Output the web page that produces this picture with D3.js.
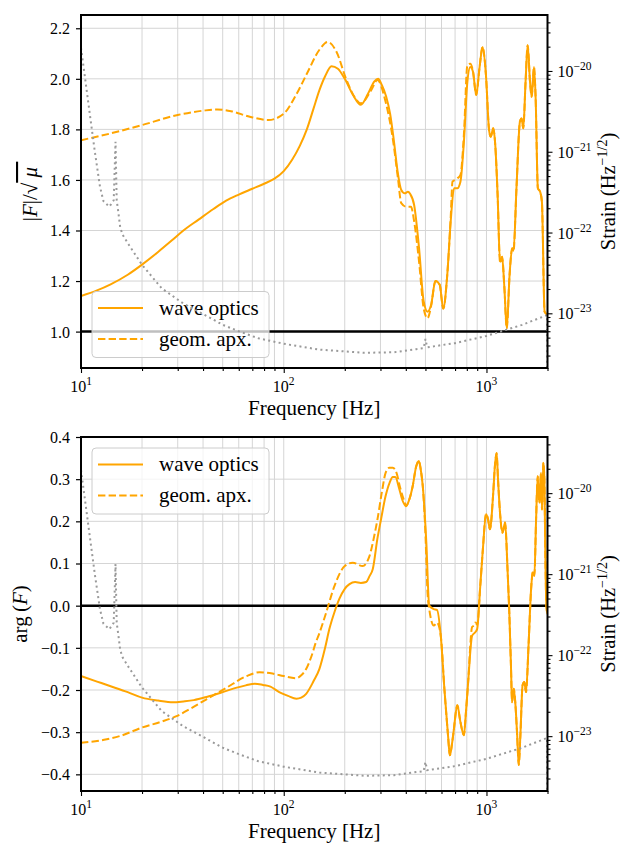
<!DOCTYPE html>
<html>
<head>
<meta charset="utf-8">
<script src="https://cdn.jsdelivr.net/npm/d3@7"></script>
<style>
body{margin:0;background:#fff}
svg text{font-family:"Liberation Serif","Times New Roman",serif !important;fill:#000}
</style>
</head>
<body>
<div id="chart"></div>
<script>
// |F|/sqrt(mu), wave optics
const magFreq = [10,12,14,17,20,24,28,32,38,45,52,60,70,80,90,100,110,120,130,140,150,160,172,185,200,220,240,260,280,292,305,320,335,350,365,380,395,410,420,440,465,490,512,533,560,588,612,640,666,692,718,744,774,805,832,858,890,923,957,994,1030,1050,1080,1105,1135,1166,1180,1194,1226,1259,1300,1339,1360,1406,1462,1490,1519,1559,1596,1640,1671,1716,1748,1793,1840,1877,1935,2000];
const magWave = [1.141,1.163,1.187,1.225,1.265,1.315,1.36,1.40,1.443,1.485,1.518,1.542,1.565,1.585,1.605,1.635,1.68,1.735,1.80,1.88,1.955,2.01,2.05,2.04,2.0,1.935,1.897,1.94,1.99,2.0,1.975,1.93,1.86,1.75,1.63,1.56,1.547,1.553,1.545,1.50,1.33,1.12,1.079,1.105,1.20,1.185,1.092,1.22,1.435,1.567,1.567,1.593,1.751,1.988,2.047,2.028,1.936,2.04,2.126,2.015,1.797,1.771,1.804,1.738,1.54,1.277,1.28,1.296,1.172,1.013,1.224,1.33,1.32,1.567,1.83,1.843,1.804,1.988,2.133,1.988,1.929,2.047,1.923,1.567,1.553,1.514,1.079,1.066];

// |F|/sqrt(mu), geometric optics approximation
const magGeoFreq = [10,14,20,30,40,47,55,68,84,100,115,130,150,165,182,203,223,240,270,290,318,345,366,380,402,424,440,465,490,512,533,560,588,612,640,666,680,700,718,744,774,805,832,858,890,923,957,994,1030,1050,1080,1105,1135,1166,1180,1194,1226,1259,1300,1339,1360,1406,1462,1490,1519,1559,1596,1640,1671,1716,1748,1793,1840,1877,1935,2000];
const magGeo = [1.757,1.784,1.817,1.857,1.874,1.879,1.872,1.85,1.837,1.862,1.936,2.02,2.115,2.146,2.107,2.0,1.929,1.903,1.955,1.995,1.909,1.764,1.606,1.508,1.494,1.494,1.435,1.277,1.092,1.053,1.10,1.20,1.185,1.09,1.22,1.45,1.593,1.60,1.606,1.62,1.78,2.054,2.06,2.03,1.936,2.04,2.126,2.015,1.797,1.771,1.804,1.738,1.54,1.277,1.28,1.296,1.172,1.013,1.224,1.33,1.32,1.567,1.83,1.843,1.804,1.988,2.133,1.988,1.929,2.047,1.923,1.567,1.553,1.514,1.079,1.066];

// arg(F), wave optics
const phaseFreq = [10,12,14,17,20,24,28.5,32,36,42,50,58,65,72,79,86,95,105,115.5,122,129,140,150,160,168,178,188,200,211,225,240,255,265,275,290,302,318,333,345,355,370,385,401,415,432,450,464,475,485,505,522,550,570,595,620,646,660,675,688,718,744,774,790,810,850,880,900,932,960,995,1018,1040,1080,1100,1122,1140,1166,1200,1236,1270,1296,1322,1337,1364,1390,1417,1443,1470,1507,1537,1567,1615,1660,1691,1723,1757,1790,1824,1858,1879,1908,1930,1952,1975,2000];
const phaseWave = [-0.167,-0.18,-0.191,-0.205,-0.218,-0.225,-0.229,-0.227,-0.224,-0.216,-0.205,-0.195,-0.189,-0.185,-0.188,-0.192,-0.205,-0.214,-0.2205,-0.218,-0.209,-0.18,-0.150,-0.10,-0.055,-0.015,0.016,0.040,0.051,0.056,0.054,0.056,0.07,0.087,0.16,0.205,0.26,0.292,0.305,0.305,0.28,0.25,0.236,0.25,0.282,0.33,0.343,0.32,0.284,0.15,0.0,-0.008,-0.01,-0.071,-0.197,-0.307,-0.355,-0.33,-0.300,-0.236,-0.276,-0.307,-0.26,-0.189,-0.071,-0.063,-0.055,0.047,0.134,0.217,0.205,0.181,0.268,0.33,0.362,0.30,0.221,0.173,0.197,0.087,-0.016,-0.150,-0.229,-0.197,-0.236,-0.307,-0.378,-0.307,-0.189,-0.181,-0.205,-0.087,0.039,0.079,0.071,0.205,0.307,0.244,0.315,0.228,0.339,0.299,0.118,0.0,-0.02];

// arg(F), geometric optics approximation
const phaseGeoFreq = [10,13,15.6,20,25,29.6,35,41.6,52,65.6,76,88,100,115,122,129,137,144,150,162,178,200,219,245,265,278,290,305,318,332,345,360,375,395,401,415,432,450,464,475,485,500,512,522,550,570,595,620,646,660,675,688,718,744,774,790,810,850,870,880,900,932,960,995,1018,1040,1080,1100,1122,1140,1166,1200,1236,1270,1296,1322,1337,1364,1390,1417,1443,1470,1507,1537,1567,1615,1660,1691,1723,1757,1790,1824,1858,1879,1908,1930,1952,1975,2000];
const phaseGeo = [-0.325,-0.318,-0.309,-0.289,-0.275,-0.262,-0.243,-0.222,-0.195,-0.167,-0.158,-0.161,-0.167,-0.172,-0.165,-0.150,-0.12,-0.087,-0.065,-0.016,0.047,0.094,0.102,0.094,0.118,0.16,0.205,0.27,0.315,0.327,0.327,0.315,0.28,0.245,0.236,0.25,0.282,0.33,0.343,0.32,0.284,0.17,0.031,-0.008,-0.047,-0.04,-0.071,-0.197,-0.307,-0.355,-0.33,-0.300,-0.236,-0.276,-0.307,-0.26,-0.189,-0.05,-0.047,-0.04,-0.045,0.047,0.134,0.217,0.205,0.181,0.268,0.33,0.362,0.30,0.221,0.173,0.197,0.087,-0.016,-0.150,-0.229,-0.197,-0.236,-0.307,-0.378,-0.307,-0.189,-0.181,-0.205,-0.087,0.039,0.079,0.071,0.205,0.307,0.244,0.315,0.228,0.339,0.299,0.118,0.0,-0.02];

// detector noise (strain ASD, right axis)
const noiseFreq = [10,10.5,11.1,11.7,12.4,12.9,13.8,14.5,14.8,15.0,15.3,15.6,16,17,20,25,32,40,50,60,75,100,150,250,350,450,490,500,510,700,1000,1500,1990,2000];
const noiseAsd = [1.93e-20,7.76e-21,2.69e-21,1.0e-21,3.72e-22,2.45e-22,2.09e-22,2.51e-22,1.33e-21,2.51e-22,1.74e-22,1.17e-22,9.5e-23,7.4e-23,3.98e-23,2.04e-23,1.32e-23,9.8e-24,7.2e-24,6.0e-24,4.9e-24,4.2e-24,3.55e-24,3.24e-24,3.3e-24,3.6e-24,3.7e-24,4.8e-24,3.8e-24,4.27e-24,5.25e-24,7.2e-24,9.5e-24,1e-25];

const xMajor = [10,100,1000];
const xLabels = ["1","2","3"];
const magTicks = [1.0,1.2,1.4,1.6,1.8,2.0,2.2];
const phaseTicks = [-0.4,-0.3,-0.2,-0.1,0.0,0.1,0.2,0.3,0.4];
const strainMajor = [1e-20,1e-21,1e-22,1e-23];
const strainLabels = ["\u221220","\u221221","\u221222","\u221223"];
const legendNames = ["wave optics","geom. apx."];

const W = 622, H = 843;
const L = 81, R = 547.5;
const orange = "#ffa500";
const serif = "Liberation Serif";

const svg = d3.select("#chart").append("svg")
    .attr("width", W).attr("height", H)
    .attr("font-family", serif);
svg.append("rect").attr("width", W).attr("height", H).attr("fill", "#fff");

const x = d3.scaleLog().domain([10, 2000]).range([L, R]);

// minor ticks for log axes
function logMinors(lo, hi) {
    const out = [];
    for (let e = Math.floor(Math.log10(lo)); e <= Math.ceil(Math.log10(hi)); e++) {
        for (let k = 2; k <= 9; k++) {
            const v = k * Math.pow(10, e);
            if (v >= lo * 0.9999 && v <= hi * 1.0001) out.push(v);
        }
    }
    return out;
}
const xMinor = logMinors(10, 2000);

function drawPanel(cfg, idx) {
    const g = svg.append("g");
    const y = d3.scaleLinear().domain(cfg.yDomain).range([cfg.bottom, cfg.top]);
    const ys = d3.scaleLog().domain([Math.pow(10, -23.677), Math.pow(10, -19.307)]).range([cfg.bottom, cfg.top]);

    const clipId = "clip" + idx;
    svg.append("clipPath").attr("id", clipId).append("rect")
        .attr("x", L).attr("y", cfg.top).attr("width", R - L).attr("height", cfg.bottom - cfg.top);

    // grid
    g.append("g").selectAll("line").data(xMajor.concat(xMinor)).join("line")
        .attr("x1", d => x(d)).attr("x2", d => x(d))
        .attr("y1", cfg.top).attr("y2", cfg.bottom)
        .attr("stroke", "#d5d5d5").attr("stroke-width", 1);
    g.append("g").selectAll("line").data(cfg.yTicks).join("line")
        .attr("x1", L).attr("x2", R)
        .attr("y1", d => y(d)).attr("y2", d => y(d))
        .attr("stroke", "#d5d5d5").attr("stroke-width", 1);

    // reference line
    g.append("line").attr("x1", L).attr("x2", R)
        .attr("y1", y(cfg.hline)).attr("y2", y(cfg.hline))
        .attr("stroke", "#000").attr("stroke-width", 2.5);

    const line = d3.line()
        .x(d => x(d[0])).y(d => y(d[1]))
        .curve(d3.curveMonotoneX);

    const plot = g.append("g").attr("clip-path", `url(#${clipId})`);
    plot.append("path").datum(d3.zip(cfg.geoF, cfg.geoV))
        .attr("d", line).attr("fill", "none")
        .attr("stroke", orange).attr("stroke-width", 2)
        .attr("stroke-dasharray", "7.4,3.2");
    plot.append("path").datum(d3.zip(cfg.waveF, cfg.waveV))
        .attr("d", line).attr("fill", "none")
        .attr("stroke", orange).attr("stroke-width", 2);

    // legend
    const lg = g.append("g").attr("transform", `translate(92,${cfg.legendY})`);
    lg.append("rect").attr("width", 177).attr("height", 66).attr("rx", 4)
        .attr("fill", "#fff").attr("fill-opacity", 0.75)
        .attr("stroke", "#cccccc").attr("stroke-width", 1);
    legendNames.forEach((name, i) => {
        const ry = 16.5 + i * 31;
        lg.append("line").attr("x1", 6).attr("x2", 51).attr("y1", ry).attr("y2", ry)
            .attr("stroke", orange).attr("stroke-width", 2)
            .attr("stroke-dasharray", i ? "7.4,3.2" : null);
        lg.append("text").attr("x", 67).attr("y", ry + 6.5)
            .attr("font-size", 21).text(name);
    });

    // noise curve on twin axis
    const noiseLine = d3.line().x(d => x(d[0])).y(d => ys(d[1]));
    g.append("path").datum(d3.zip(noiseFreq, noiseAsd))
        .attr("clip-path", `url(#${clipId})`)
        .attr("d", noiseLine).attr("fill", "none")
        .attr("stroke", "#9a9a9a").attr("stroke-width", 2)
        .attr("stroke-dasharray", "2,3.3");

    // axes
    const fmt = d3.format(".1f");
    const axL = g.append("g").attr("transform", `translate(${L},0)`)
        .call(d3.axisLeft(y).tickValues(cfg.yTicks).tickSize(5).tickPadding(6).tickFormat(fmt));
    axL.attr("font-family", serif);
    axL.select(".domain").remove();
    axL.selectAll("text").attr("font-size", 16).attr("dy", "0.34em");
    axL.selectAll("line").attr("stroke-width", 1.2);

    const axB = g.append("g").attr("transform", `translate(0,${cfg.bottom})`)
        .call(d3.axisBottom(x).tickValues(xMajor).tickSize(5).tickFormat(""));
    const axBm = g.append("g").attr("transform", `translate(0,${cfg.bottom})`)
        .call(d3.axisBottom(x).tickValues(xMinor).tickSize(3).tickFormat(""));
    [axB, axBm].forEach(a => { a.select(".domain").remove(); a.selectAll("line").attr("stroke-width", 1.1); });
    xMajor.forEach((v, i) => {
        const t = g.append("text").attr("x", x(v)).attr("y", cfg.bottom + 24)
            .attr("text-anchor", "middle").attr("font-size", 16);
        t.append("tspan").text("10");
        t.append("tspan").attr("dy", -7).attr("font-size", 11.5).text(xLabels[i]);
    });

    const axR = g.append("g").attr("transform", `translate(${R},0)`)
        .call(d3.axisRight(ys).tickValues(strainMajor).tickSize(5).tickFormat(""));
    const axRm = g.append("g").attr("transform", `translate(${R},0)`)
        .call(d3.axisRight(ys).tickValues(logMinors(ys.domain()[0], ys.domain()[1])).tickSize(3).tickFormat(""));
    [axR, axRm].forEach(a => { a.select(".domain").remove(); a.selectAll("line").attr("stroke-width", 1.1); });
    strainMajor.forEach((v, i) => {
        const t = g.append("text").attr("x", R + 10).attr("y", ys(v) + 6)
            .attr("font-size", 16);
        t.append("tspan").text("10");
        t.append("tspan").attr("dy", -7).attr("font-size", 11.5).text(strainLabels[i]);
    });

    // frame
    g.append("rect").attr("x", L).attr("y", cfg.top)
        .attr("width", R - L).attr("height", cfg.bottom - cfg.top)
        .attr("fill", "none").attr("stroke", "#000").attr("stroke-width", 2);

    // labels
    g.append("text").attr("x", (L + R) / 2).attr("y", cfg.bottom + 47)
        .attr("text-anchor", "middle").attr("font-size", 21).text("Frequency [Hz]");

    const mid = (cfg.top + cfg.bottom) / 2;
    const yl = g.append("text")
        .attr("transform", `translate(${cfg.ylabelX},${mid}) rotate(-90)`)
        .attr("text-anchor", "middle").attr("font-size", 21);
    cfg.ylabel(yl);

    const rl = g.append("text")
        .attr("transform", `translate(615,${mid}) rotate(-90)`)
        .attr("text-anchor", "middle").attr("font-size", 20.5);
    rl.append("tspan").text("Strain (Hz");
    rl.append("tspan").attr("dy", -8).attr("font-size", 14).text("\u22121/2");
    rl.append("tspan").attr("dy", 8).text(")");
}

drawPanel({
    top: 15, bottom: 368, yDomain: [0.856, 2.2525], yTicks: magTicks, hline: 1.0,
    waveF: magFreq, waveV: magWave, geoF: magGeoFreq, geoV: magGeo,
    legendY: 291.5, ylabelX: 37,
    ylabel: t => {
        t.append("tspan").text("|");
        t.append("tspan").attr("font-style", "italic").text("F");
        t.append("tspan").text("|/\u221A");
        t.append("tspan").attr("font-style", "italic")
            .style("text-decoration", "overline").text("\u00A0\u03BC\u00A0");
    }
}, 0);

drawPanel({
    top: 437, bottom: 791, yDomain: [-0.4395, 0.4], yTicks: phaseTicks, hline: 0.0,
    waveF: phaseFreq, waveV: phaseWave, geoF: phaseGeoFreq, geoV: phaseGeo,
    legendY: 448, ylabelX: 27,
    ylabel: t => {
        t.append("tspan").text("arg\u2009(");
        t.append("tspan").attr("font-style", "italic").text("F");
        t.append("tspan").text(")");
    }
}, 1);
</script>
</body>
</html>
